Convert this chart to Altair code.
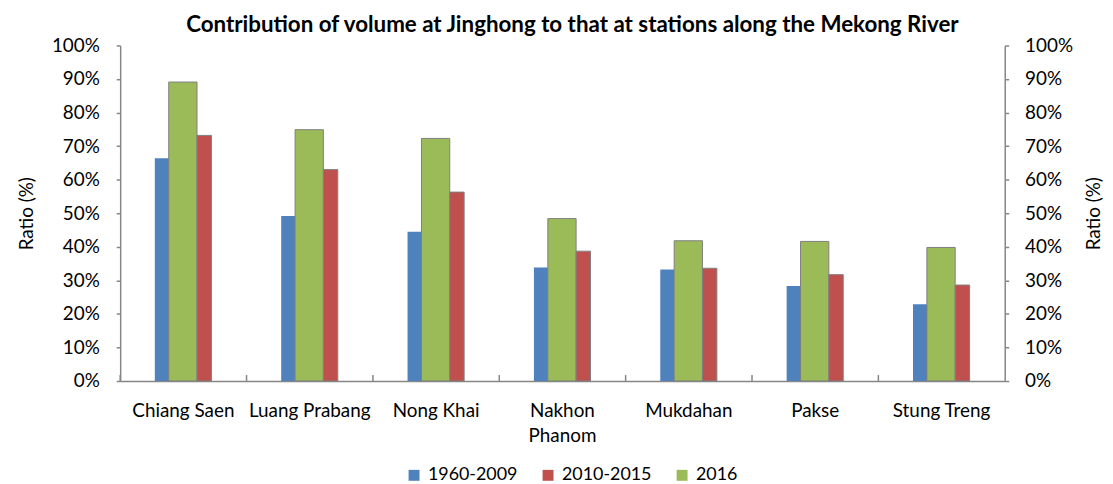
import altair as alt
import pandas as pd

title_text = ["Contribution of volume at Jinghong to that at stations along the Mekong River"]
stations = ["Chiang Saen", "Luang Prabang", "Nong Khai", "Nakhon Phanom",
            "Mukdahan", "Pakse", "Stung Treng"]
series_names = ["1960-2009", "2010-2015", "2016"]
v_1960_2009 = [66.4, 49.2, 44.5, 33.8, 33.2, 28.3, 22.9]
v_2010_2015 = [73.2, 63.0, 56.3, 38.7, 33.6, 31.7, 28.6]
v_2016 = [89.1, 74.9, 72.3, 48.4, 41.8, 41.6, 39.8]
colors = ["#4F81BD", "#C0504D", "#9BBB59"]

rows = []
for name, vals in zip(series_names, [v_1960_2009, v_2010_2015, v_2016]):
    for s, v in zip(stations, vals):
        rows.append({"station": s, "series": name, "ratio": v / 100.0})
df = pd.DataFrame(rows)
df_st = pd.DataFrame({"station": stations})
df_title = pd.DataFrame({"t": title_text})

FONT = "Lato"
W, H = 891, 338
GRAY = "#868686"

xscale = alt.Scale(domain=stations, paddingInner=0, paddingOuter=0)
x_axis = alt.Axis(
    orient="bottom", ticks=False, domainColor=GRAY, domainWidth=1.5,
    labelAngle=0, labelFont=FONT, labelFontSize=19, labelColor="#000000",
    labelPadding=21, labelLineHeight=25,
    labelExpr="datum.value == 'Nakhon Phanom' ? ['Nakhon', 'Phanom'] : datum.value",
)
x_main = alt.X("station:N", scale=xscale, sort=stations, title=None, axis=x_axis)
yscale = alt.Scale(domain=[0, 1], nice=False, zero=True)
y_left = alt.Y(
    "ratio:Q", scale=yscale, title="Ratio (%)",
    axis=alt.Axis(
        orient="left", values=[i / 10 for i in range(11)], format=".0%",
        grid=False, domainColor=GRAY, domainWidth=1.5, tickColor=GRAY,
        tickWidth=1.5, tickSize=4, labelPadding=17, labelFont=FONT,
        labelFontSize=19, labelColor="#000000", titleFont=FONT,
        titleFontSize=19, titleFontWeight="normal", titleColor="#000000",
        titlePadding=15,
    ),
)
color = alt.Color(
    "series:N", scale=alt.Scale(domain=series_names, range=colors),
    legend=alt.Legend(
        title=None, orient="none", direction="horizontal", legendX=287,
        legendY=424, symbolType="square", symbolSize=121, symbolStrokeWidth=0,
        labelFont=FONT, labelFontSize=18, labelColor="#000000",
        columnPadding=21, labelOffset=5, padding=0,
    ),
)

base = alt.Chart(df)
b1 = base.transform_filter(alt.datum.series == "1960-2009").mark_bar(
    width=14.5, xOffset=-21.5, strokeWidth=0
).encode(x=x_main, y=y_left, color=color)
b3 = base.transform_filter(alt.datum.series == "2016").mark_bar(
    width=28.5, xOffset=-0.5, stroke="#7F7F7F", strokeWidth=1
).encode(x=x_main, y=y_left, color=color)
b2 = base.transform_filter(alt.datum.series == "2010-2015").mark_bar(
    width=14.5, xOffset=21, stroke="#7F7F7F", strokeWidth=1
).encode(x=x_main, y=y_left, color=color)

# inward category-boundary ticks on the x axis
xticks = alt.Chart(df_st).mark_rule(color=GRAY, strokeWidth=1.5).encode(
    x=alt.X("station:N", scale=xscale, sort=stations, bandPosition=0,
            title=None, axis=x_axis),
    y=alt.value(H - 6), y2=alt.value(H),
)

# chart title as a text mark above the plot
title_mark = alt.Chart(df_title).mark_text(
    font=FONT, fontSize=22.5, fontWeight="bold", color="#000000",
    align="center", baseline="middle",
).encode(text="t:N", x=alt.value(W / 2 + 10), y=alt.value(-21))

left = alt.layer(b1, b3, b2, xticks, title_mark)

right = base.mark_bar(opacity=0).encode(
    x=x_main,
    y=alt.Y(
        "ratio:Q", scale=yscale, title="Ratio (%)",
        axis=alt.Axis(
            orient="right", values=[i / 10 for i in range(11)], format=".0%",
            grid=False, domainColor=GRAY, domainWidth=1.5, tickColor=GRAY,
            tickWidth=1.5, tickSize=4, labelPadding=16, labelFont=FONT,
            labelFontSize=19, labelColor="#000000", titleFont=FONT,
            titleFontSize=19, titleFontWeight="normal", titleColor="#000000",
            titlePadding=31, titleAngle=270,
        ),
    ),
)

chart = alt.layer(left, right).resolve_scale(y="independent").properties(
    width=W, height=H,
    autosize=alt.AutoSizeParams(type="none"),
    padding={"left": 113, "top": 36, "right": 101, "bottom": 102},
).configure_view(stroke=None)

chart.save("out.html", embed_options={"renderer": "svg", "actions": False})
